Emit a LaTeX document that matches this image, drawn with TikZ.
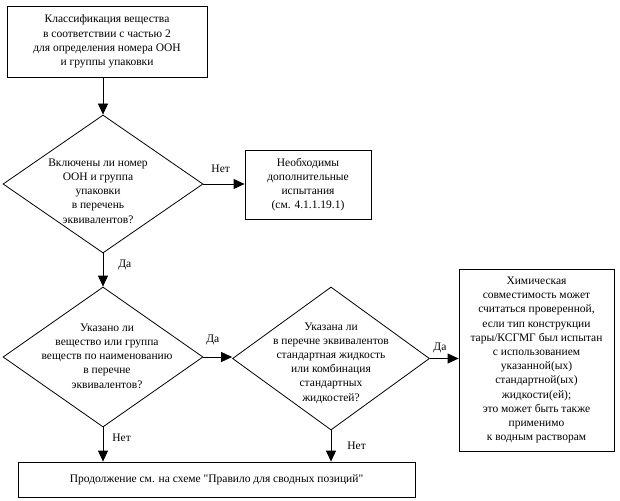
\documentclass[tikz,border=0pt]{standalone}
\usepackage{fontspec}
\setmainfont{Liberation Serif}[Ligatures=TeXOff]
\usetikzlibrary{arrows.meta,shapes.geometric}
\newcommand\dgfont{\fontsize{11.5}{14.2}\selectfont}
\begin{document}
\begin{tikzpicture}[x=1pt,y=-1pt,
  box/.style={draw, line width=0.8pt, inner sep=0pt, align=center, font=\dgfont},
  dia/.style={draw, diamond, line width=0.8pt, inner sep=0pt},
  dtext/.style={inner sep=0pt, align=center, font=\dgfont},
  arr/.style={line width=0.8pt, -{Triangle[length=11pt,width=10pt]}},
  lbl/.style={inner sep=0pt, font=\dgfont}]
\useasboundingbox (0,0) rectangle (620,500);
\node[box, minimum width=200pt, minimum height=71pt] (b1) at (107,41.5)
  {Классификация вещества\\в соответствии с частью 2\\для определения номера ООН\\и группы упаковки};
\node[dia, minimum width=200pt, minimum height=138pt] (d1) at (103,184) {};
\node[dtext] (d1t) at (98,191) {Включены ли номер\\ООН и группа\\упаковки\\в перечень\\эквивалентов?};
\node[box, minimum width=126pt, minimum height=69pt] (b2) at (308,184.5)
  {Необходимы\\дополнительные\\испытания\\(см. 4.1.1.19.1)};
\node[dia, minimum width=200pt, minimum height=140pt] (d2) at (103,357) {};
\node[dtext] (d2t) at (107,356) {Указано ли\\вещество или группа\\веществ по наименованию\\в перечне\\эквивалентов?};
\node[dia, minimum width=197pt, minimum height=143pt] (d3) at (331,358.5) {};
\node[dtext] (d3t) at (331,363) {Указана ли\\в перечне эквивалентов\\стандартная жидкость\\или комбинация\\стандартных\\жидкостей?};
\node[box, minimum width=155pt, minimum height=182pt] (b4) at (536.5,360)
  {Химическая\\совместимость может\\считаться проверенной,\\если тип конструкции\\тары/КСГМГ был испытан\\с использованием\\указанной(ых)\\стандартной(ых)\\жидкости(ей);\\это может быть также\\применимо\\к водным растворам};
\node[box, minimum width=397pt, minimum height=35pt] (b5) at (216.5,479.5)
  {Продолжение см. на схеме "Правило для сводных позиций"};
\draw[arr] (d1.north |- b1.south) -- (d1.north);
\draw[arr] (d1.east) -- node[lbl, pos=0.42, above=11pt] {Нет} (d1.east -| b2.west);
\draw[arr] (d1.south) -- node[lbl, pos=0.35, right=15pt] {Да} (d2.north);
\draw[arr] (d2.east) -- node[lbl, pos=0.33, above=12pt] {Да} (d2.east -| d3.west);
\draw[arr] (d3.east) -- node[lbl, pos=0.35, above=5pt] {Да} (d3.east -| b4.west);
\draw[arr] (d2.south) -- node[lbl, pos=0.29, right=9pt] {Нет} (d2.south |- b5.north);
\draw[arr] (d3.south) -- node[lbl, pos=0.5, right=16pt] {Нет} (d3.south |- b5.north);
\end{tikzpicture}
\end{document}
